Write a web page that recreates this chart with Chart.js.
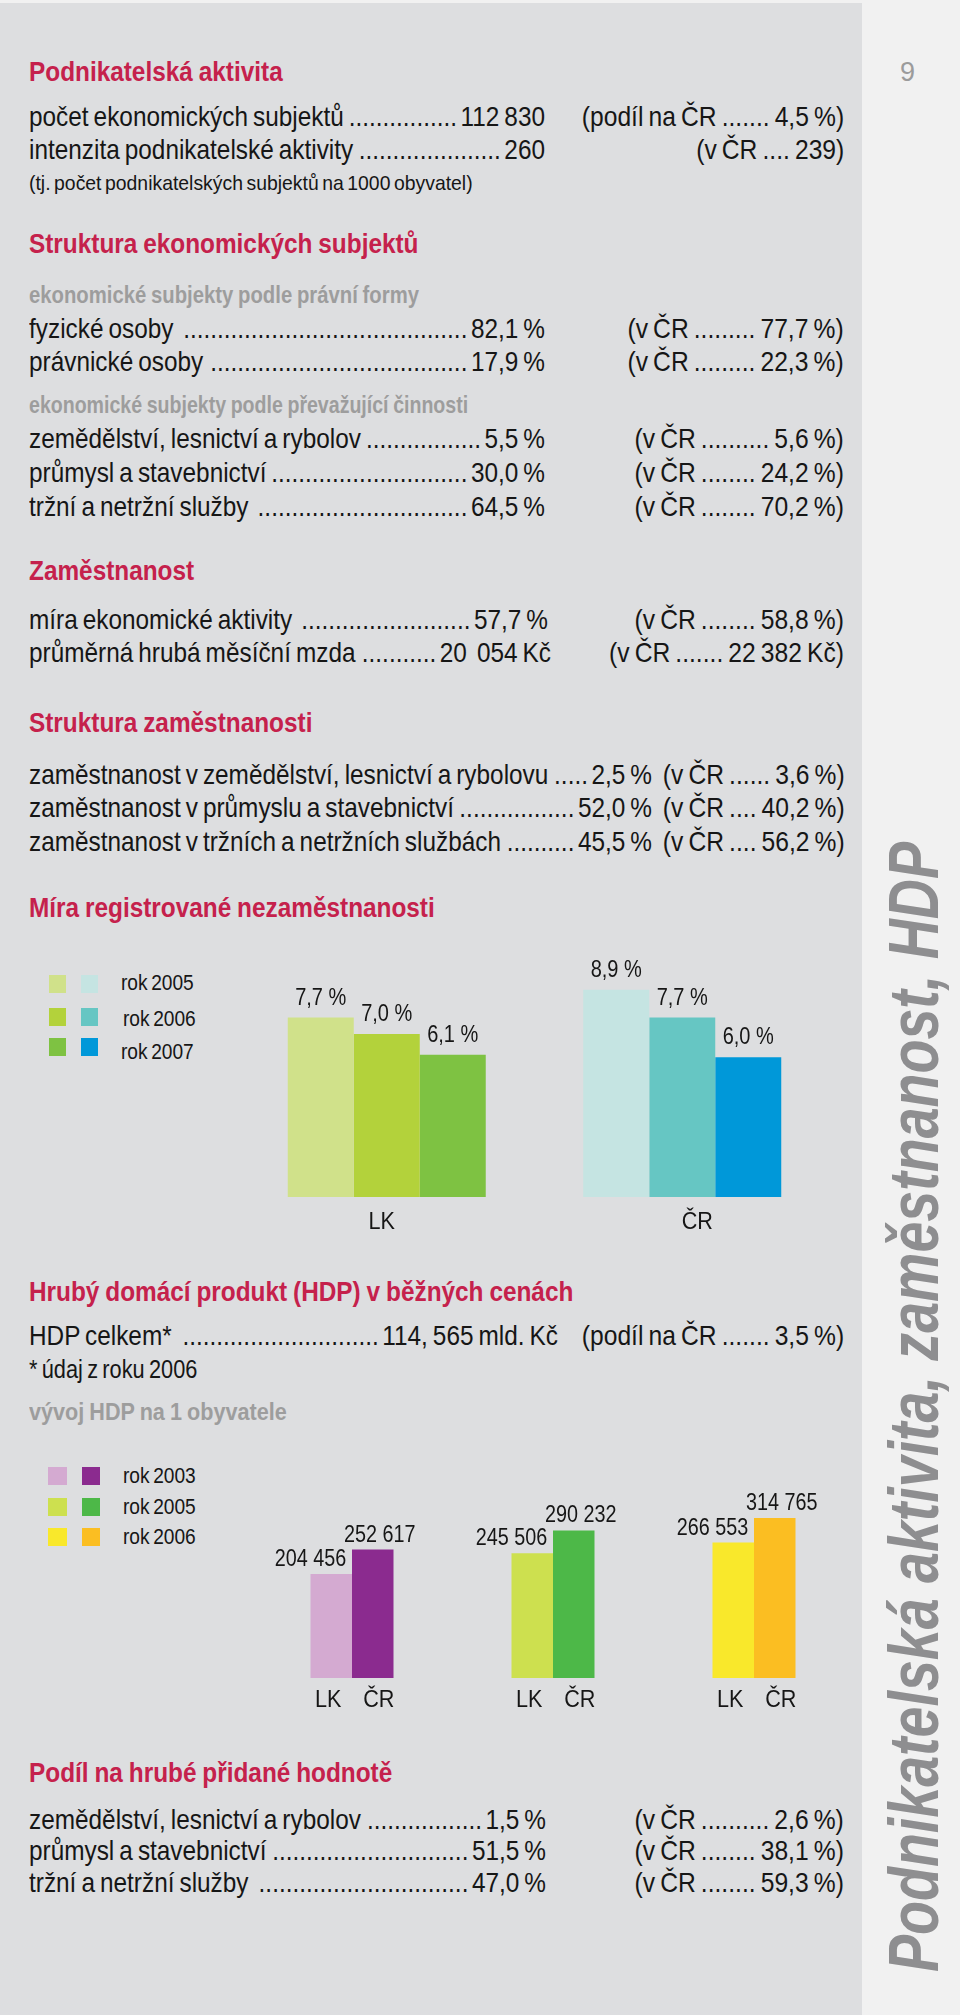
<!DOCTYPE html>
<html><head><meta charset="utf-8">
<script src="https://cdn.jsdelivr.net/npm/chart.js@4.4.0/dist/chart.umd.min.js"></script>
<style>
html,body{margin:0;padding:0;}
body{width:960px;height:2015px;position:relative;background:#f1f1f1;overflow:hidden;
 font-family:"Liberation Sans",Arial,sans-serif;color:#161616;}
#panel{position:absolute;left:0;top:3px;width:862px;height:2012px;background:#dddee0;}
.t{position:absolute;white-space:nowrap;line-height:1;word-spacing:-2px;}
.h{font-weight:bold;color:#c5214c;word-spacing:-1px;}
.s{font-weight:bold;color:#9d9d9d;word-spacing:-1px;}
.row{display:flex;}
.lead{flex:1;min-width:0;text-align:right;padding:0 4px 0 3px;}
.sw{position:absolute;}
canvas{position:absolute;}
#vert{position:absolute;left:0;top:0;white-space:nowrap;line-height:1;font-weight:bold;font-style:italic;color:#8e8e90;font-size:70px;transform-origin:0 0;}
#pg{position:absolute;color:#9b9b9b;font-size:27px;line-height:1;}
</style></head><body>
<div id="panel"></div>
<div id="texts"></div>
<div id="pg">9</div>
<div id="vert">Podnikatelská aktivita, zaměstnanost, HDP</div>
<canvas id="unemp" width="630" height="300" style="left:230px;top:940px;width:630px;height:300px"></canvas>
<canvas id="hdp" width="620" height="280" style="left:240px;top:1440px;width:620px;height:280px"></canvas>
<script>
// ---- chart data ----
const unempCategories = ['LK', 'ČR'];
const unempYears = ['rok 2005', 'rok 2006', 'rok 2007'];
const unemp2005 = [7.7, 8.9];
const unemp2006 = [7.0, 7.7];
const unemp2007 = [6.1, 6.0];
const unempColorsLK = ['#d0e18a', '#b3d23b', '#7ec242'];
const unempColorsCR = ['#c5e4e2', '#66c6c3', '#0098d9'];

const hdpYears = ['rok 2003', 'rok 2005', 'rok 2006'];
const hdpSeries = ['LK', 'ČR'];
const hdpLK = [204456, 245506, 266553];
const hdpCR = [252617, 290232, 314765];
const hdpColorsLK = ['#d4aad1', '#cde04f', '#f9e82b'];
const hdpColorsCR = ['#8b2b8f', '#4db848', '#fbbe22'];

const FONT = '"Liberation Sans",Arial,sans-serif';
const K = 0.87;   // horizontal condensing of the brochure typeface
const KP = 0.88;  // condensing of the right-hand "(v ČR ...)" column
const texts = document.getElementById('texts');

// width of one leader dot at 28px
const dotW = (() => {
  const s = document.createElement('span');
  s.style.cssText = 'position:absolute;visibility:hidden;white-space:nowrap;font-size:28px;';
  s.textContent = '.'.repeat(100);
  document.body.appendChild(s);
  const w = s.offsetWidth / 100;
  s.remove();
  return w;
})();

function line(text, x, base, fs, cls, k){
  k = k || K;
  const d = document.createElement('div');
  d.className = 't ' + (cls||'');
  d.style.left = x + 'px';
  d.style.top = (base - 0.85*fs) + 'px';
  d.style.fontSize = fs + 'px';
  d.style.transformOrigin = '0 0';
  d.style.transform = `scaleX(${k})`;
  d.textContent = text;
  texts.appendChild(d);
  return d;
}
function rightLine(text, right, base, fs, k){
  k = k || K;
  const d = line(text, 0, base, fs, '', k);
  d.style.left = 'auto';
  d.style.right = (960 - right) + 'px';
  d.style.transformOrigin = '100% 0';
  return d;
}
function leaderRow(label, value, base, valueRight, paren, parenRight){
  const fs = 28;
  const d = document.createElement('div');
  d.className = 't row';
  d.style.left = '29px';
  d.style.width = ((valueRight - 29) / K) + 'px';
  d.style.top = (base - 0.85*fs) + 'px';
  d.style.fontSize = fs + 'px';
  d.style.transformOrigin = '0 0';
  d.style.transform = `scaleX(${K})`;
  const a = document.createElement('span'); a.textContent = label;
  const b = document.createElement('span'); b.className = 'lead';
  const c = document.createElement('span'); c.textContent = value;
  d.appendChild(a); d.appendChild(b); d.appendChild(c);
  texts.appendChild(d);
  const avail = b.clientWidth - 7 - 2;
  b.textContent = '.'.repeat(Math.max(0, Math.floor(avail / dotW)));
  if (paren) rightLine(paren, parenRight || 844, base, fs, KP);
}

// ---- text blocks ----
line('Podnikatelská aktivita', 29, 82, 28, 'h');
leaderRow('počet ekonomických subjektů', '112 830', 127, 545, '(podíl na ČR ....... 4,5 %)');
leaderRow('intenzita podnikatelské aktivity', '260', 160, 545, '(v ČR .... 239)');
line('(tj. počet podnikatelských subjektů na 1000 obyvatel)', 29, 190, 21, '', 0.923);

line('Struktura ekonomických subjektů', 29, 254, 28, 'h');
line('ekonomické subjekty podle právní formy', 29, 303, 24, 's', 0.845);
leaderRow('fyzické osoby', '82,1 %', 339, 545, '(v ČR ......... 77,7 %)');
leaderRow('právnické osoby', '17,9 %', 372, 545, '(v ČR ......... 22,3 %)');
line('ekonomické subjekty podle převažující činnosti', 29, 413, 24, 's', 0.815);
leaderRow('zemědělství, lesnictví a rybolov', '5,5 %', 449, 545, '(v ČR .......... 5,6 %)');
leaderRow('průmysl a stavebnictví', '30,0 %', 483, 545, '(v ČR ........ 24,2 %)');
leaderRow('tržní a netržní služby', '64,5 %', 517, 545, '(v ČR ........ 70,2 %)');

line('Zaměstnanost', 29, 581, 28, 'h');
leaderRow('míra ekonomické aktivity', '57,7 %', 630, 548, '(v ČR ........ 58,8 %)');
leaderRow('průměrná hrubá měsíční mzda', '20\u00a0 054 Kč', 663, 551, '(v ČR ....... 22 382 Kč)');

line('Struktura zaměstnanosti', 29, 733, 28, 'h');
leaderRow('zaměstnanost v zemědělství, lesnictví a rybolovu', '2,5 %', 785, 652, '(v ČR ...... 3,6 %)', 845);
leaderRow('zaměstnanost v průmyslu a stavebnictví', '52,0 %', 818, 652, '(v ČR .... 40,2 %)', 845);
leaderRow('zaměstnanost v tržních a netržních službách', '45,5 %', 852, 652, '(v ČR .... 56,2 %)', 845);

line('Míra registrované nezaměstnanosti', 29, 918, 28, 'h');

line('Hrubý domácí produkt (HDP) v běžných cenách', 29, 1302, 28, 'h');
leaderRow('HDP celkem*', '114, 565 mld. Kč', 1346, 558, '(podíl na ČR ....... 3,5 %)');
line('* údaj z roku 2006', 29, 1378, 25, '');
line('vývoj HDP na 1 obyvatele', 29, 1420, 24, 's', 0.9);

line('Podíl na hrubé přidané hodnotě', 29, 1783, 28, 'h');
leaderRow('zemědělství, lesnictví a rybolov', '1,5 %', 1830, 546, '(v ČR .......... 2,6 %)');
leaderRow('průmysl a stavebnictví', '51,5 %', 1861, 546, '(v ČR ........ 38,1 %)');
leaderRow('tržní a netržní služby', '47,0 %', 1893, 546, '(v ČR ........ 59,3 %)');

// ---- legends (HTML) ----
function swatch(x, y, w, h, color){
  const d = document.createElement('div');
  d.className = 'sw';
  d.style.cssText = `left:${x}px;top:${y}px;width:${w}px;height:${h}px;background:${color}`;
  texts.appendChild(d);
}
const unempLegendTops = [975, 1008, 1038];
unempYears.forEach((y, i) => {
  swatch(49, unempLegendTops[i], 17, 18, unempColorsLK[i]);
  swatch(81, unempLegendTops[i], 17, 18, unempColorsCR[i]);
  line(y, 121 + (i === 1 ? 2 : 0), unempLegendTops[i] + 16 + i*3, 22, '');
});
const hdpLegendTops = [1467, 1498, 1528];
hdpYears.forEach((y, i) => {
  swatch(48, hdpLegendTops[i], 19, 18, hdpColorsLK[i]);
  swatch(82, hdpLegendTops[i], 18, 18, hdpColorsCR[i]);
  line(y, 123, hdpLegendTops[i] + 17, 22, '');
});

// page number + vertical title
const pg = document.getElementById('pg');
pg.style.left = '900px'; pg.style.top = (82 - 0.85*27) + 'px';
const vert = document.getElementById('vert');
const vw = vert.getBoundingClientRect().width;
const vs = 1130 / vw;
vert.style.transform = `translate(${938 - 0.85*70}px, 1972px) rotate(-90deg) scaleX(${vs})`;

// ---- charts ----
const fmtPct = v => v.toFixed(1).replace('.', ',') + ' %';
const fmtNum = v => String(v).replace(/\B(?=(\d{3})+(?!\d))/g, ' ');

function condText(ctx, text, x, y, k){
  ctx.save();
  ctx.translate(x, y);
  ctx.scale(k, 1);
  ctx.fillText(text, 0, 0);
  ctx.restore();
}

const unempCatLabelShift = [-5, 15];
const unempPlugin = {
  id: 'unempLabels',
  afterDatasetsDraw(chart){
    const ctx = chart.ctx;
    ctx.save();
    ctx.fillStyle = '#161616';
    ctx.textAlign = 'center';
    ctx.textBaseline = 'alphabetic';
    ctx.font = '23px ' + FONT;
    chart.data.datasets.forEach((ds, i) => {
      chart.getDatasetMeta(i).data.forEach((bar, j) => {
        condText(ctx, fmtPct(ds.data[j]), bar.x, bar.y - 13, K);
      });
    });
    ctx.font = '24px ' + FONT;
    const xs = chart.scales.x;
    chart.data.labels.forEach((l, j) => {
      condText(ctx, l, xs.getPixelForValue(j) + unempCatLabelShift[j], chart.chartArea.bottom + 32, 0.9);
    });
    ctx.restore();
  }
};

new Chart(document.getElementById('unemp'), {
  type: 'bar',
  data: {
    labels: unempCategories,
    datasets: [
      { label: unempYears[0], data: unemp2005, backgroundColor: [unempColorsLK[0], unempColorsCR[0]] },
      { label: unempYears[1], data: unemp2006, backgroundColor: [unempColorsLK[1], unempColorsCR[1]] },
      { label: unempYears[2], data: unemp2007, backgroundColor: [unempColorsLK[2], unempColorsCR[2]] }
    ]
  },
  options: {
    responsive: false,
    animation: false,
    layout: { padding: { left: 9, right: 30, top: 24, bottom: 43 } },
    datasets: { bar: { barPercentage: 1, categoryPercentage: 0.67, borderWidth: 0 } },
    scales: {
      x: { display: false },
      y: { display: false, min: 0, max: 10 }
    },
    plugins: { legend: { display: false }, tooltip: { enabled: false } }
  },
  plugins: [unempPlugin]
});

const hdpPlugin = {
  id: 'hdpLabels',
  afterDatasetsDraw(chart){
    const ctx = chart.ctx;
    ctx.save();
    ctx.fillStyle = '#161616';
    ctx.textAlign = 'center';
    ctx.textBaseline = 'alphabetic';
    chart.data.datasets.forEach((ds, i) => {
      chart.getDatasetMeta(i).data.forEach((bar, j) => {
        ctx.font = '23px ' + FONT;
        const lx = i === 0 ? bar.x - bar.width/2 : bar.x + 7;
        condText(ctx, fmtNum(ds.data[j]), lx, bar.y - 8, 0.86);
        ctx.font = '24px ' + FONT;
        condText(ctx, ds.label, bar.x + (i === 0 ? -3 : 6), chart.chartArea.bottom + 29, 0.9);
      });
    });
    ctx.restore();
  }
};

new Chart(document.getElementById('hdp'), {
  type: 'bar',
  data: {
    labels: hdpYears,
    datasets: [
      { label: hdpSeries[0], data: hdpLK, backgroundColor: hdpColorsLK },
      { label: hdpSeries[1], data: hdpCR, backgroundColor: hdpColorsCR }
    ]
  },
  options: {
    responsive: false,
    animation: false,
    layout: { padding: { left: 11.5, right: 5.5, top: 34.7, bottom: 42 } },
    datasets: { bar: { barPercentage: 1, categoryPercentage: 0.413, borderWidth: 0 } },
    scales: {
      x: { display: false },
      y: { display: false, min: 0, max: 400000 }
    },
    plugins: { legend: { display: false }, tooltip: { enabled: false } }
  },
  plugins: [hdpPlugin]
});
</script>
</body></html>
